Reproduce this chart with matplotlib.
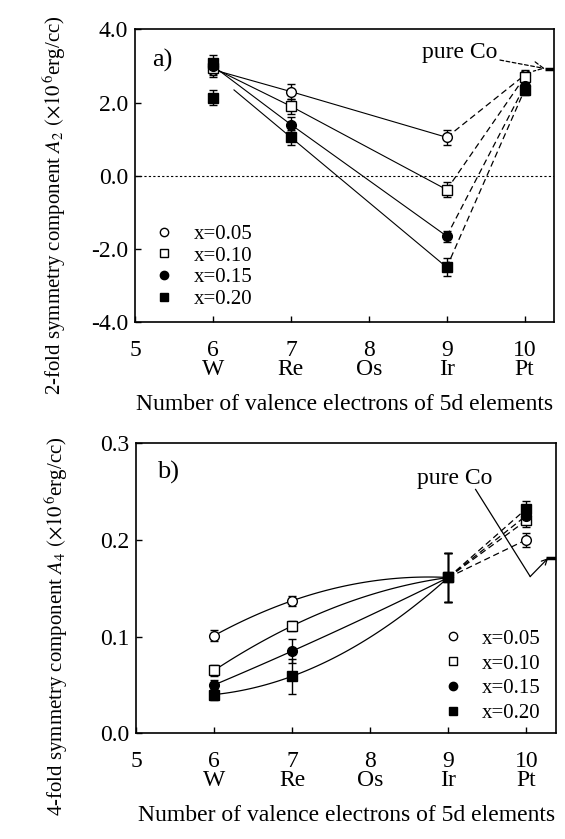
import matplotlib
matplotlib.use('Agg')
import matplotlib.pyplot as plt
import numpy as np
from matplotlib.lines import Line2D

plt.rcParams['font.family'] = ['Liberation Serif', 'DejaVu Serif']
plt.rcParams['mathtext.fontset'] = 'stix'

# number of valence electrons of the 5d element
n_val = [6, 7, 9, 10]
xticks = [5, 6, 7, 8, 9, 10]
elements = ['', 'W', 'Re', 'Os', 'Ir', 'Pt']
conc = ['x=0.05', 'x=0.10', 'x=0.15', 'x=0.20']
markers = ['o', 's', 'o', 's']
filled = [False, False, True, True]

# A2 (x10^6 erg/cc) at W, Re, Ir, Pt
a2 = [[2.90, 2.30, 1.05, 2.75],
      [2.95, 1.90, -0.38, 2.70],
      [3.00, 1.40, -1.65, 2.45],
      [3.07, 1.05, -2.50, 2.35]]
a2_err = [[0.20, 0.20, 0.20, 0.15],
          [0.20, 0.20, 0.20, 0.15],
          [0.20, 0.20, 0.15, 0.15],
          [0.22, 0.20, 0.25, 0.15]]
a2_w_extra = 2.13      # second x=0.20 sample on W
a2_w_extra_err = 0.20
a2_pure_co = 2.93

# A4 (x10^6 erg/cc) at W, Re, Ir, Pt
a4 = [[0.101, 0.137, 0.161, 0.200],
      [0.065, 0.111, 0.161, 0.220],
      [0.050, 0.085, 0.161, 0.225],
      [0.040, 0.059, 0.161, 0.232]]
a4_err = [[0.006, 0.005, 0.025, 0.007],
          [0.006, 0.005, 0.025, 0.007],
          [0.005, 0.012, 0.025, 0.007],
          [0.006, 0.018, 0.025, 0.008]]
a4_pure_co = 0.181

fig = plt.figure(figsize=(5.65, 8.39), dpi=100)
ax1 = fig.add_axes([0.239, 0.616, 0.742, 0.349])
ax2 = fig.add_axes([0.241, 0.126, 0.743, 0.346])

tick_labels = [str(t) + ('\n' + e if e else '') for t, e in zip(xticks, elements)]


def style(ax):
    ax.set_xlim(5, 10.38)
    ax.set_xticks(xticks)
    ax.set_xticklabels(tick_labels, fontsize=17, linespacing=0.9)
    ax.tick_params(direction='in', length=4, width=1, labelsize=17)
    ax.tick_params(axis='x', pad=12.5)
    ax.tick_params(axis='y', pad=5)
    for s in ax.spines.values():
        s.set_linewidth(1.2)
    ax.set_xlabel('Number of valence electrons of 5d elements', fontsize=17, labelpad=10)


def point_kw(i):
    return dict(fmt=markers[i], ms=7 if markers[i] == 'o' else 6.5, mec='black',
                mfc='black' if filled[i] else 'white', mew=1, ecolor='black',
                elinewidth=1, capsize=3, capthick=1, zorder=5)


# ---- panel a) ----
ax1.axhline(0, color='black', lw=0.8, ls=(0, (2, 2)))
for i in range(4):
    xs = list(n_val[:3])
    ys = list(a2[i][:3])
    if i == 3:
        # fitted line for x=0.20 starts off the W points
        slope = (a2[i][2] - a2[i][1]) / (n_val[2] - n_val[1])
        xs[0] = 6.27
        ys[0] = a2[i][1] + slope * (xs[0] - n_val[1])
    ax1.plot(xs, ys, color='black', lw=0.8, zorder=2)
    ax1.plot(n_val[2:], a2[i][2:], color='black', lw=0.9, ls=(0, (5, 3)), zorder=2)
for i in range(4):
    ax1.errorbar(n_val, a2[i], yerr=a2_err[i], **point_kw(i))
ax1.errorbar([n_val[0]], [a2_w_extra], yerr=[a2_w_extra_err], **point_kw(3))
ax1.plot([10.26, 10.38], [a2_pure_co, a2_pure_co], color='black', lw=2.5, solid_capstyle='butt')
ax1.annotate('pure Co', xy=(10.26, a2_pure_co), xytext=(8.68, 3.37), fontsize=17,
             va='center', ha='left',
             arrowprops=dict(arrowstyle='->', lw=0.9, ls=(0, (3, 2)), color='black',
                             shrinkA=0, shrinkB=0))
ax1.text(5.22, 3.15, 'a)', fontsize=19, va='center')
ax1.set_ylim(-4, 4)
ax1.set_yticks([-4, -2, 0, 2, 4])
ax1.set_yticklabels(['%.1f' % v for v in [-4, -2, 0, 2, 4]])
style(ax1)
ax1.set_ylabel(r'2-fold symmetry component $A_2$ $(\times10^{\,6}$erg/cc)', fontsize=15)
ax1.yaxis.set_label_coords(-0.16, 0.40)

# ---- panel b) ----
xc = np.linspace(n_val[0], n_val[2], 60)
for i in range(4):
    coef = np.polyfit(n_val[:3], a4[i][:3], 2)
    ax2.plot(xc, np.polyval(coef, xc), color='black', lw=0.9, zorder=2)
    ax2.plot(n_val[2:], a4[i][2:], color='black', lw=0.9, ls=(0, (5, 3)), zorder=2)
for i in range(4):
    ax2.errorbar(n_val, a4[i], yerr=a4_err[i], **point_kw(i))
ax2.plot([10.25, 10.38], [a4_pure_co, a4_pure_co], color='black', lw=2.5, solid_capstyle='butt')
ax2.text(8.6, 0.263, 'pure Co', fontsize=17, va='center', ha='left')
ax2.plot([9.35, 10.05], [0.252, 0.162], color='black', lw=0.9)
ax2.annotate('', xy=(10.28, a4_pure_co), xytext=(10.05, 0.162),
             arrowprops=dict(arrowstyle='->', lw=0.9, color='black', shrinkA=0, shrinkB=0))
ax2.text(5.27, 0.27, 'b)', fontsize=19, va='center')
ax2.set_ylim(0, 0.3)
ax2.set_yticks([0, 0.1, 0.2, 0.3])
ax2.set_yticklabels(['%.1f' % v for v in [0, 0.1, 0.2, 0.3]])
style(ax2)
ax2.set_ylabel(r'4-fold symmetry component $A_4$ $(\times10^{\,6}$erg/cc)', fontsize=15)
ax2.yaxis.set_label_coords(-0.157, 0.37)

handles = [Line2D([], [], ls='none', marker=markers[i], ms=6, mec='black',
                  mfc='black' if filled[i] else 'white') for i in range(4)]
leg_kw = dict(frameon=False, handlelength=0.8, handletextpad=1.0,
              borderpad=0, borderaxespad=0, fontsize=15, loc='lower left')
ax1.legend(handles, conc, bbox_to_anchor=(0.05, 0.045), labelspacing=0.1, **leg_kw)
ax2.legend(handles, conc, bbox_to_anchor=(0.735, 0.035), labelspacing=0.25, **leg_kw)

fig.savefig('out.png', dpi=100)
